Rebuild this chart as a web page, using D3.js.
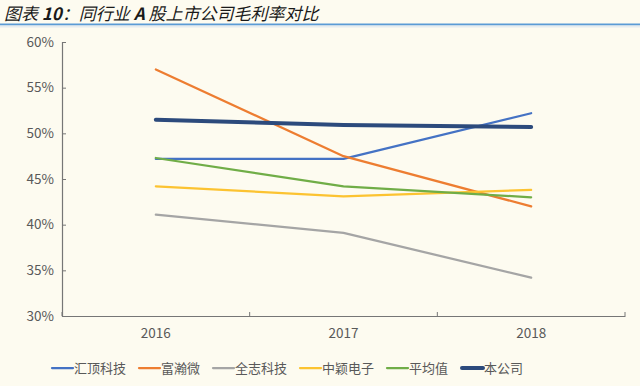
<!DOCTYPE html>
<html>
<head>
<meta charset="utf-8">
<script src="https://cdn.jsdelivr.net/npm/d3@7"></script>
<style>
  html, body { margin: 0; padding: 0; background: #fdfbf0; }
  svg { display: block; }
</style>
</head>
<body>
<svg id="chart" width="640" height="386"></svg>
<script>
// data (gross margin, %)
const years = ["2016", "2017", "2018"];
const names = ["汇顶科技", "富瀚微", "全志科技", "中颖电子", "平均值", "本公司"];
const huiding = [47.2, 47.2, 52.2];
const fuhan = [57.0, 47.5, 42.0];
const quanzhi = [41.1, 39.1, 34.2];
const zhongying = [44.2, 43.1, 43.8];
const average = [47.3, 44.2, 43.0];
const company = [51.5, 50.9, 50.7];
const yTicks = [30, 35, 40, 45, 50, 55, 60];

const colors = ["#4472c4", "#ed7d31", "#a5a5a5", "#fcc331", "#70ad47", "#2c4a7c"];
const widths = [2.25, 2.25, 2.25, 2.25, 2.25, 4];
const series = [huiding, fuhan, quanzhi, zhongying, average, company];

const svg = d3.select("#chart");
const font = "'Noto Sans CJK SC', 'Noto Sans', sans-serif";

// title with rule underneath
const title = svg.append("text")
  .attr("x", 4).attr("y", 19.5)
  .attr("font-family", font)
  .attr("font-size", 17)
  .attr("font-style", "italic")
  .attr("fill", "#1a1a1a");
title.append("tspan").text("图表 ");
title.append("tspan").attr("font-weight", "bold").text("10");
title.append("tspan").text("：同行业 ");
title.append("tspan").attr("font-weight", "bold").text("A");
title.append("tspan").text(" 股上市公司毛利率对比");
svg.append("rect").attr("x", 0).attr("y", 23.5).attr("width", 640).attr("height", 2).attr("fill", "#5b9bd5");
svg.append("rect").attr("x", 0).attr("y", 25.5).attr("width", 640).attr("height", 2).attr("fill", "#e6ecef");

const plotL = 62, plotR = 625, plotT = 42, plotB = 316;

const x = d3.scaleBand().domain(years).range([plotL, plotR]);
const y = d3.scaleLinear().domain([30, 60]).range([plotB, plotT]);

// y axis
const yAxis = svg.append("g")
  .attr("transform", `translate(${plotL},0)`)
  .call(d3.axisLeft(y).tickValues(yTicks).tickSize(-4).tickPadding(8).tickFormat(d => d + "%"));
yAxis.select(".domain").attr("stroke", "#767676").attr("stroke-width", 1.2);
yAxis.selectAll(".tick line").attr("stroke", "#767676");
yAxis.selectAll("text").attr("font-family", font).attr("font-size", 13.5).attr("fill", "#595959");

// x axis
const xAxis = svg.append("g")
  .attr("transform", `translate(0,${plotB})`)
  .call(d3.axisBottom(x).tickSize(0).tickPadding(12));
xAxis.select(".domain").attr("stroke", "#767676").attr("stroke-width", 1.2);
xAxis.selectAll("text").attr("font-family", font).attr("font-size", 13.5).attr("fill", "#595959");
xAxis.selectAll(".bound")
  .data(years.map(d => x(d)).concat([plotR]))
  .enter().append("line")
  .attr("x1", d => d).attr("x2", d => d)
  .attr("y1", 0).attr("y2", -4)
  .attr("stroke", "#767676");

// lines
const line = d3.line()
  .x((d, i) => x(years[i]) + x.bandwidth() / 2)
  .y(d => y(d));

svg.append("g").selectAll("path")
  .data(series)
  .enter().append("path")
  .attr("d", d => line(d))
  .attr("fill", "none")
  .attr("stroke", (d, i) => colors[i])
  .attr("stroke-width", (d, i) => widths[i])
  .attr("stroke-linecap", "round")
  .attr("stroke-linejoin", "round");

// legend
const legendX = [52, 139, 213, 300, 387, 462];
const lg = svg.append("g").attr("transform", "translate(0,368)");
const items = lg.selectAll("g").data(names).enter().append("g")
  .attr("transform", (d, i) => `translate(${legendX[i]},0)`);
items.append("line")
  .attr("x1", 0).attr("x2", 21).attr("y1", 0).attr("y2", 0)
  .attr("stroke", (d, i) => colors[i])
  .attr("stroke-width", (d, i) => widths[i])
  .attr("stroke-linecap", "round");
items.append("text")
  .attr("x", 22).attr("y", 4.5)
  .attr("font-family", font)
  .attr("font-size", 13)
  .attr("fill", "#595959")
  .text(d => d);
</script>
</body>
</html>
